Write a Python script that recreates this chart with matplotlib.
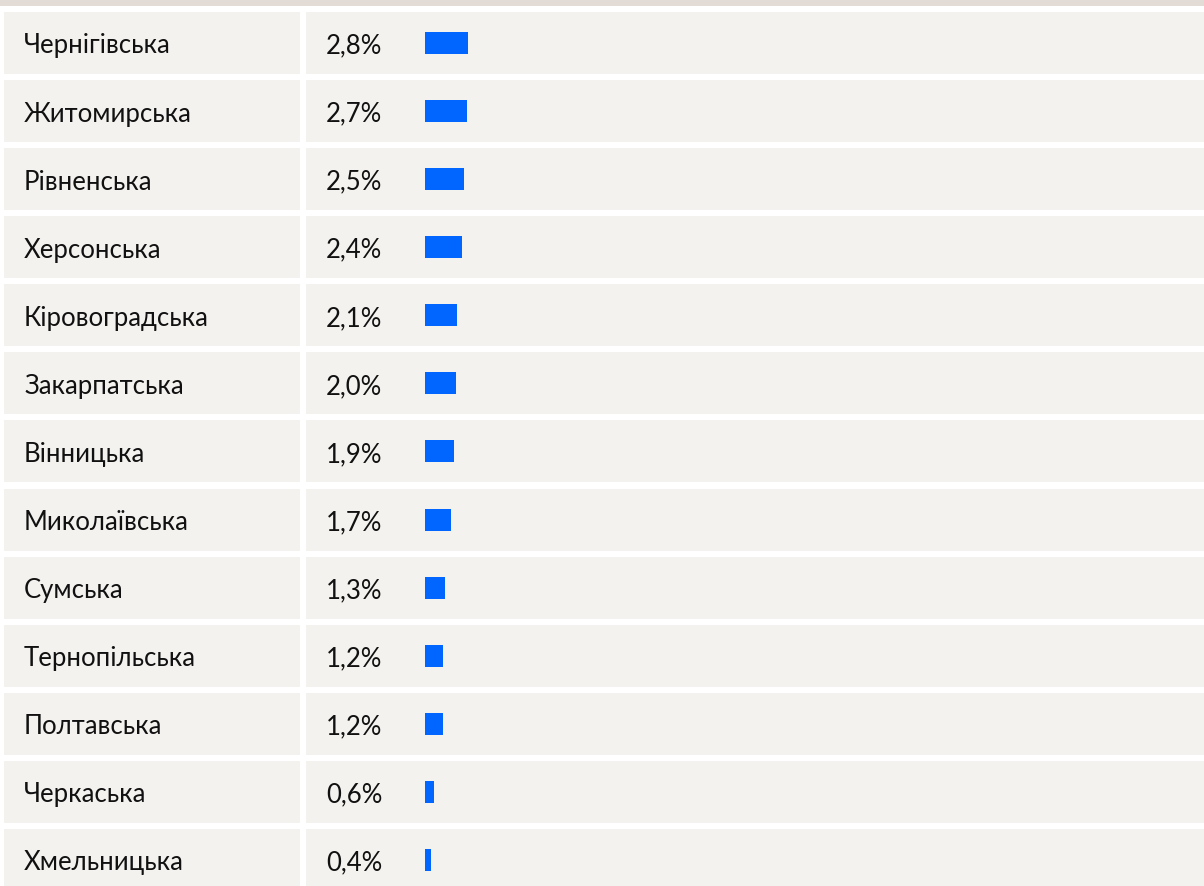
import matplotlib
matplotlib.use("Agg")
import matplotlib.pyplot as plt
from matplotlib.patches import Rectangle

regions = ["Чернігівська", "Житомирська", "Рівненська", "Херсонська", "Кіровоградська",
           "Закарпатська", "Вінницька", "Миколаївська", "Сумська", "Тернопільська",
           "Полтавська", "Черкаська", "Хмельницька"]
shares = [2.8, 2.7, 2.5, 2.4, 2.1, 2.0, 1.9, 1.7, 1.3, 1.2, 1.2, 0.6, 0.4]
labels = ["2,8%", "2,7%", "2,5%", "2,4%", "2,1%", "2,0%", "1,9%", "1,7%",
          "1,3%", "1,2%", "1,2%", "0,6%", "0,4%"]

W, H = 1204, 887
pitch = 68.08          # px per row
y0 = 44                # px centre of first row
ylim = ((H - y0) / pitch, -y0 / pitch)

plt.rcParams['font.family'] = ['Lato', 'DejaVu Sans']
fig = plt.figure(figsize=(W / 100, H / 100), dpi=100)
fig.patch.set_facecolor("white")

bg = fig.add_axes([0, 0, 1, 1])
bg.set_xlim(0, W)
bg.set_ylim(*ylim)
bg.axis("off")

cell = "#f3f2ef"
row_h = 62 / pitch
dy = 2 / pitch         # text sits a touch below the row centre
bg.add_patch(Rectangle((0, ylim[1]), W, 7 / pitch, color="#e3dcd6", lw=0))
rows = range(len(regions))
for i in rows:
    bg.add_patch(Rectangle((4, i - row_h / 2), 296, row_h, color=cell, lw=0))
    bg.add_patch(Rectangle((306, i - row_h / 2), W - 306, row_h, color=cell, lw=0))
    bg.text(24, i + dy, regions[i], fontsize=18.5, va="center", ha="left", color="#111111")
    bg.text(326, i + dy, labels[i], fontsize=18.5, va="center", ha="left", color="#111111")

# bars: 1% ~ 15.4 px, starting at x=425 px
bx = fig.add_axes([425 / W, 0, 1 - 425 / W, 1])
bx.set_xlim(0, (W - 425) / 15.4)
bx.set_ylim(*ylim)
bx.axis("off")
bx.barh(list(rows), shares, height=22 / pitch, color="#0066ff")

fig.savefig("out.png", dpi=100)
